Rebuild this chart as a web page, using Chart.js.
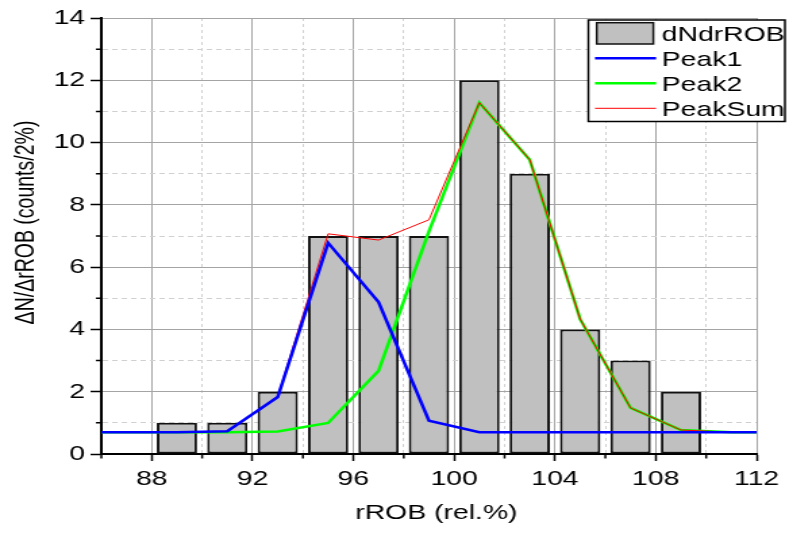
<!DOCTYPE html>
<html>
<head>
<meta charset="utf-8">
<script src="https://cdn.jsdelivr.net/npm/chart.js@4.4.0/dist/chart.umd.min.js"></script>
<style>
html, body { margin: 0; padding: 0; background: #fff; overflow: hidden; }
/* the source picture is stretched sideways, so draw narrow and widen it */
#wrap { width: 584px; height: 533px; transform: scaleX(1.351); transform-origin: 0 0; }
</style>
</head>
<body>
<div id="wrap"><canvas id="chart" width="584" height="533"></canvas></div>
<script>
const binCenters = [89, 91, 93, 95, 97, 99, 101, 103, 105, 107, 109];
const binCounts  = [1, 1, 2, 7, 7, 7, 12, 9, 4, 3, 2];

const fitX    = [86, 87, 89, 91, 93, 95, 97, 99, 101, 103, 105, 107, 109, 111, 112];
const peak1   = [0.7, 0.7, 0.7, 0.73, 1.83, 6.78, 4.88, 1.07, 0.7, 0.7, 0.7, 0.7, 0.7, 0.7, 0.7];
const peak2   = [0.7, 0.7, 0.7, 0.7, 0.72, 1.0, 2.67, 7.15, 11.28, 9.45, 4.33, 1.48, 0.77, 0.7, 0.7];
const peakSum = [0.7, 0.7, 0.7, 0.73, 1.85, 7.07, 6.87, 7.52, 11.28, 9.45, 4.33, 1.48, 0.77, 0.7, 0.7];

const xMajorTicks = [88, 92, 96, 100, 104, 108, 112];
const yMajorTicks = [0, 2, 4, 6, 8, 10, 12, 14];

const xTitle = 'rROB (rel.%)';
const yTitle = 'ΔN/ΔrROB (counts/2%)';

const FONT = '"Liberation Sans", Arial, sans-serif';
const pts = (xs, ys) => xs.map((x, i) => ({ x, y: ys[i] }));
const isMajor = (list, ctx) => ctx.tick && list.includes(ctx.tick.value);

// minor ticks, axis titles and the boxed legend
const decor = {
    id: 'decor',
    afterDraw(chart) {
        const { ctx, chartArea: area, scales: { x, y } } = chart;
        ctx.save();
        ctx.strokeStyle = '#000';
        ctx.lineWidth = 1.5;
        ctx.beginPath();
        x.ticks.forEach(t => {
            if (xMajorTicks.includes(t.value)) return;
            const px = x.getPixelForValue(t.value);
            ctx.moveTo(px, area.bottom);
            ctx.lineTo(px, area.bottom + 4.5);
        });
        y.ticks.forEach(t => {
            if (yMajorTicks.includes(t.value)) return;
            const py = y.getPixelForValue(t.value);
            ctx.moveTo(area.left, py);
            ctx.lineTo(area.left - 4, py);
        });
        ctx.stroke();

        ctx.fillStyle = '#000';
        ctx.font = `21px ${FONT}`;
        ctx.textAlign = 'center';
        ctx.textBaseline = 'alphabetic';
        ctx.fillText(xTitle, 323, 519);

        ctx.save();
        ctx.translate(20, 222.5);
        ctx.rotate(-Math.PI / 2);
        ctx.font = `19.5px ${FONT}`;
        ctx.textBaseline = 'middle';
        ctx.fillText(yTitle, 0, 0);
        ctx.restore();

        // legend
        const bx = 435.5, by = 20, bw = 145.5, bh = 101.5;
        ctx.fillStyle = '#fff';
        ctx.fillRect(bx, by, bw, bh);
        ctx.lineWidth = 1.5;
        ctx.strokeStyle = '#000';
        ctx.strokeRect(bx, by, bw, bh);
        ctx.font = `21px ${FONT}`;
        ctx.textAlign = 'left';
        chart.data.datasets.forEach((ds, i) => {
            const cy = 33.3 + i * 25;
            if (ds.type === 'line') {
                ctx.strokeStyle = ds.borderColor;
                ctx.lineWidth = ds.borderWidth;
                ctx.beginPath();
                ctx.moveTo(440.4, cy);
                ctx.lineTo(485.6, cy);
                ctx.stroke();
            } else {
                ctx.fillStyle = ds.backgroundColor;
                ctx.fillRect(441.7, 22.7, 41.9, 21.3);
                ctx.strokeStyle = ds.borderColor;
                ctx.lineWidth = 1.5;
                ctx.strokeRect(441.7, 22.7, 41.9, 21.3);
            }
            ctx.fillStyle = '#000';
            ctx.fillText(ds.label, 489.8, cy + 7.6);
        });
        ctx.restore();
    }
};

new Chart(document.getElementById('chart'), {
    type: 'bar',
    plugins: [decor],
    data: {
        datasets: [
            {
                label: 'dNdrROB', data: pts(binCenters, binCounts), order: 4,
                backgroundColor: '#c0c0c0', borderColor: '#111', borderWidth: 2,
                borderSkipped: false, barPercentage: 0.8, categoryPercentage: 1.0
            },
            {
                type: 'line', label: 'Peak1', data: pts(fitX, peak1), order: 1,
                borderColor: '#0000ff', borderWidth: 2.5, pointRadius: 0, tension: 0
            },
            {
                type: 'line', label: 'Peak2', data: pts(fitX, peak2), order: 3,
                borderColor: '#00ff00', borderWidth: 2.5, pointRadius: 0, tension: 0
            },
            {
                type: 'line', label: 'PeakSum', data: pts(fitX, peakSum), order: 2,
                borderColor: '#ff0000', borderWidth: 1, pointRadius: 0, tension: 0
            }
        ]
    },
    options: {
        responsive: false,
        animation: false,
        layout: { padding: { top: 18, right: 24, bottom: 0, left: 0 } },
        plugins: { legend: { display: false }, tooltip: { enabled: false } },
        scales: {
            x: {
                type: 'linear', min: 86, max: 112, offset: false,
                afterFit: s => { s.height = 79; },
                ticks: {
                    stepSize: 2, autoSkip: false, maxRotation: 0, padding: 6, color: '#000',
                    font: { family: FONT, size: 21 },
                    callback: v => xMajorTicks.includes(v) ? String(v) : ''
                },
                grid: {
                    offset: false, lineWidth: 1, tickLength: 7, tickWidth: 1.5,
                    color: ctx => isMajor(xMajorTicks, ctx) ? '#a4a4a4' : '#d0d0d0',
                    tickColor: ctx => isMajor(xMajorTicks, ctx) ? '#000' : 'rgba(0,0,0,0)'
                },
                border: {
                    display: true, color: '#000', width: 2,
                    dash: ctx => (ctx.tick && !xMajorTicks.includes(ctx.tick.value)) ? [3, 3] : []
                }
            },
            y: {
                min: 0, max: 14,
                afterFit: s => { s.width = 75; },
                ticks: {
                    stepSize: 1, autoSkip: false, padding: 4, color: '#000',
                    font: { family: FONT, size: 21 },
                    callback: v => yMajorTicks.includes(v) ? String(v) : ''
                },
                grid: {
                    lineWidth: 1, tickLength: 8, tickWidth: 1.5,
                    color: ctx => isMajor(yMajorTicks, ctx) ? '#a4a4a4' : '#d0d0d0',
                    tickColor: ctx => isMajor(yMajorTicks, ctx) ? '#000' : 'rgba(0,0,0,0)'
                },
                border: {
                    display: true, color: '#000', width: 2,
                    dash: ctx => (ctx.tick && !yMajorTicks.includes(ctx.tick.value)) ? [4, 3] : []
                }
            }
        }
    }
});
</script>
</body>
</html>
